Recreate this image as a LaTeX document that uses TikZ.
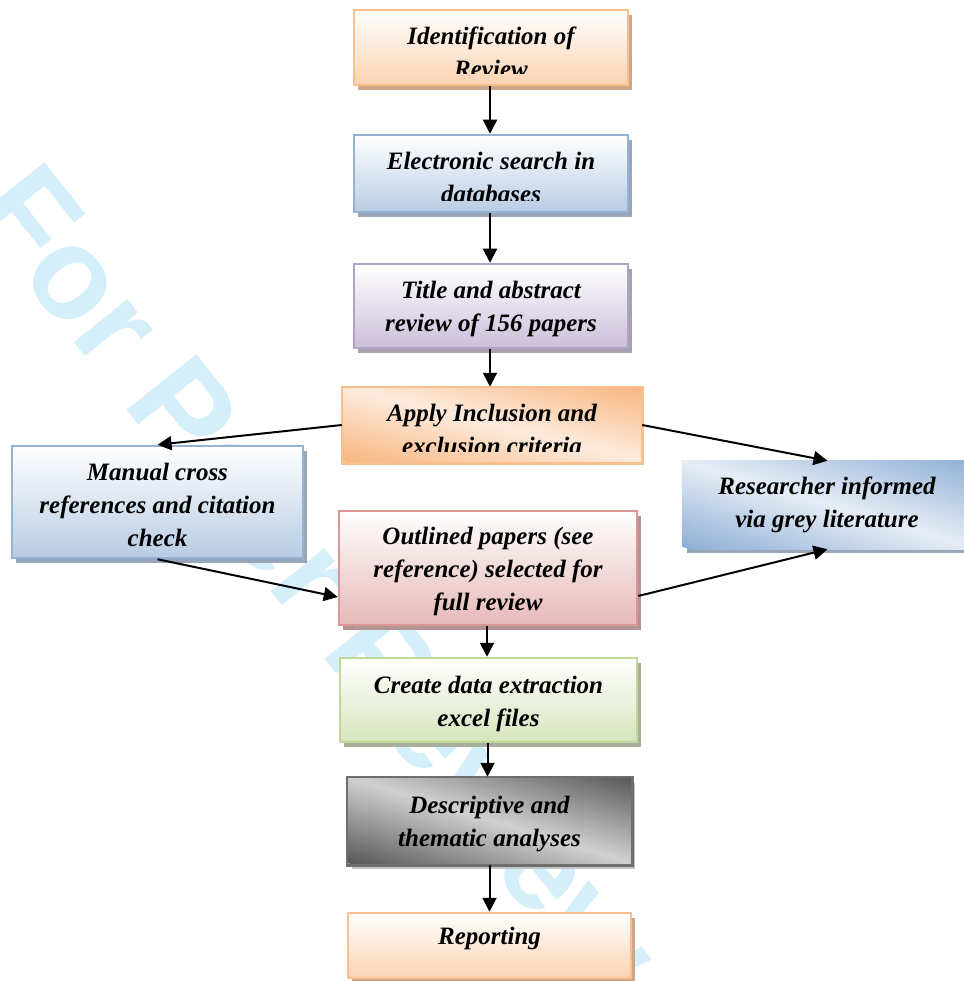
\documentclass[tikz,border=0pt]{standalone}
\usepackage{fontspec}
\setmainfont{Liberation Serif}
\newfontfamily\wmfont{Liberation Sans}
\usetikzlibrary{arrows.meta,shadows}

% box palettes: border, fill, shadow
\definecolor{orB}{HTML}{F9BF8F}
\definecolor{orF}{HTML}{FBD3B2}
\definecolor{orS}{HTML}{D0A688}
\definecolor{blB}{HTML}{95B3D7}
\definecolor{blF}{HTML}{B8CCE4}
\definecolor{blS}{HTML}{98A6B8}
\definecolor{puB}{HTML}{B3A2C7}
\definecolor{puF}{HTML}{CBBFDA}
\definecolor{puS}{HTML}{A7A1AF}
\definecolor{rdB}{HTML}{D99694}
\definecolor{rdF}{HTML}{E6B9B8}
\definecolor{rdS}{HTML}{B39494}
\definecolor{grB}{HTML}{C3D69B}
\definecolor{grF}{HTML}{D7E4BD}
\definecolor{grS}{HTML}{A9AF9C}
\definecolor{apD}{HTML}{F8B57E}
\definecolor{apL}{HTML}{FDEBDD}
\definecolor{rsD}{HTML}{8FAFD6}
\definecolor{rsL}{HTML}{E6EDF6}
\definecolor{gyD}{HTML}{575757}
\definecolor{gyL}{HTML}{D0D0D0}
\definecolor{gyB}{HTML}{6E6E6E}
\definecolor{gyS}{HTML}{C4C4C4}
\definecolor{wm}{HTML}{D4EEFA}

% Diagonal gradient inside a box node: dark towards the lower-left and
% upper-right corners, light along the diagonal from upper-left to lower-right.
% #1 node, #2 dark colour, #3 light colour, #4 width, #5 height (pt)
\newcommand{\diagfill}[5]{%
  \begin{scope}
    \clip (#1.north west) rectangle (#1.south east);
    \begin{scope}[shift={(#1.north west)}, x={(#4pt,0pt)}, y={(0pt,-#5pt)}]
      \foreach \k in {0,...,59}{%
        \pgfmathsetmacro\da{-1+\k/30}%
        \pgfmathsetmacro\db{\da+1/30+0.004}%
        \pgfmathtruncatemacro\p{100*abs(\da+1/60)}%
        \fill[#2!\p!#3] ({\da-1},-1) -- ({\da+2},2) -- ({\db+2},2) -- ({\db-1},-1) -- cycle;
      }
    \end{scope}
  \end{scope}}

\tikzset{
  box/.style={rectangle, inner sep=0pt, line width=2.5pt},
  shad/.style={drop shadow={shadow xshift=4pt, shadow yshift=-5pt, fill=#1, opacity=1}},
  txt/.style={inner sep=0pt, align=center, text=black,
    font=\fontsize{25}{33}\selectfont\bfseries\itshape},
  arr/.style={line width=2pt, -{Triangle[length=14pt,width=14pt]}},
  wmtext/.style={inner sep=0pt, text=wm, font=\wmfont\fontsize{130}{130}\selectfont\bfseries}
}

\begin{document}
\begin{tikzpicture}[x=1pt, y=-1pt]
\useasboundingbox (0,0) rectangle (963,981);

% background watermark
\node[wmtext, anchor=base west, rotate=-51.5] (wmark) at (-31,211) {For Peer Review};

% boxes
\node[box, draw=orB, top color=white, bottom color=orF, shad=orS,
      minimum width=274pt, minimum height=75pt] (b1) at (491,47.5) {};
\node[box, draw=blB, top color=white, bottom color=blF, shad=blS,
      minimum width=274pt, minimum height=77pt] (b2) at (491,173.5) {};
\node[box, draw=puB, top color=white, bottom color=puF, shad=puS,
      minimum width=274pt, minimum height=84pt] (b3) at (491,306) {};
\node[box, fill=apL,
      minimum width=298pt, minimum height=74pt] (b4) at (492,425) {};
\diagfill{b4}{apD}{apL}{298}{74}
\draw[line width=2.5pt, orB] (b4.north west) rectangle (b4.south east);
\node[box, draw=blB, top color=white, bottom color=blF, shad=blS,
      minimum width=291pt, minimum height=112pt] (b5) at (157.5,502) {};
\node[box, fill=rsL, shad=blS,
      minimum width=289pt, minimum height=86pt] (b6) at (827.5,505) {};
\diagfill{b6}{rsD}{rsL}{289}{86}
\node[box, draw=rdB, top color=white, bottom color=rdF, shad=rdS,
      minimum width=298pt, minimum height=114pt] (b7) at (488,568) {};
\node[box, draw=grB, top color=white, bottom color=grF, shad=grS,
      minimum width=297pt, minimum height=84pt] (b8) at (488.5,700) {};
\node[box, fill=gyL, shad=gyS,
      minimum width=283pt, minimum height=86pt] (b9) at (489.5,821) {};
\diagfill{b9}{gyD}{gyL}{283}{86}
\draw[line width=2.5pt, gyB] (b9.north west) rectangle (b9.south east);
\node[box, draw=orB, top color=white, bottom color=orF, shad=orS,
      minimum width=283pt, minimum height=65pt] (b10) at (489.5,945.5) {};

% box texts (the last line of some boxes runs past the inner margin)
\begin{scope}
  \clip (b1.north west) rectangle (b1.east |- 0,74);
  \node[txt] (t1) at (491,54) {\strut Identification of\\\strut Review};
\end{scope}
\begin{scope}
  \clip (b2.north west) rectangle (b2.east |- 0,201);
  \node[txt] (t2) at (491,179) {\strut Electronic search in\\\strut databases};
\end{scope}
\node[txt] (t3) at (491,308) {\strut Title and abstract\\\strut review of 156 papers};
\begin{scope}
  \clip (b4.north west) rectangle (b4.east |- 0,451);
  \node[txt] (t4) at (492,431) {\strut Apply Inclusion and\\\strut exclusion criteria};
\end{scope}
\node[txt] (t5) at (157.5,507) {\strut Manual cross\\\strut references and citation\\\strut check};
\node[txt] (t6) at (827,504) {\strut Researcher informed\\\strut via grey literature};
\node[txt] (t7) at (488,571) {\strut Outlined papers (see\\\strut reference) selected for\\\strut full review};
\node[txt] (t8) at (488.5,703) {\strut Create data extraction\\\strut excel files};
\node[txt] (t9) at (489.5,823) {\strut Descriptive and\\\strut thematic analyses};
\node[txt] (t10) at (489.5,938) {\strut Reporting};

% connectors
\draw[arr] ([xshift=-1pt]b1.south) -- ([xshift=-1pt]b1.south |- b2.north);
\draw[arr] ([xshift=-1pt]b2.south) -- ([xshift=-1pt]b2.south |- b3.north);
\draw[arr] ([xshift=-1pt]b3.south) -- ([xshift=-1pt]b3.south |- b4.north);
\draw[arr] (b4.west) -- (b5.north);
\draw[arr] (b4.east) -- (b6.north);
\draw[arr] (b5.south) -- ([yshift=-29pt]b7.west);
\draw[arr] ([yshift=-28pt]b7.east) -- (b6.south);
\draw[arr] ([xshift=-1pt]b7.south) -- ([xshift=-1pt]b7.south |- b8.north);
\draw[arr] ([xshift=-1pt]b8.south) -- ([xshift=-1pt]b8.south |- b9.north);
\draw[arr] (b9.south) -- (b9.south |- b10.north);
\end{tikzpicture}
\end{document}
